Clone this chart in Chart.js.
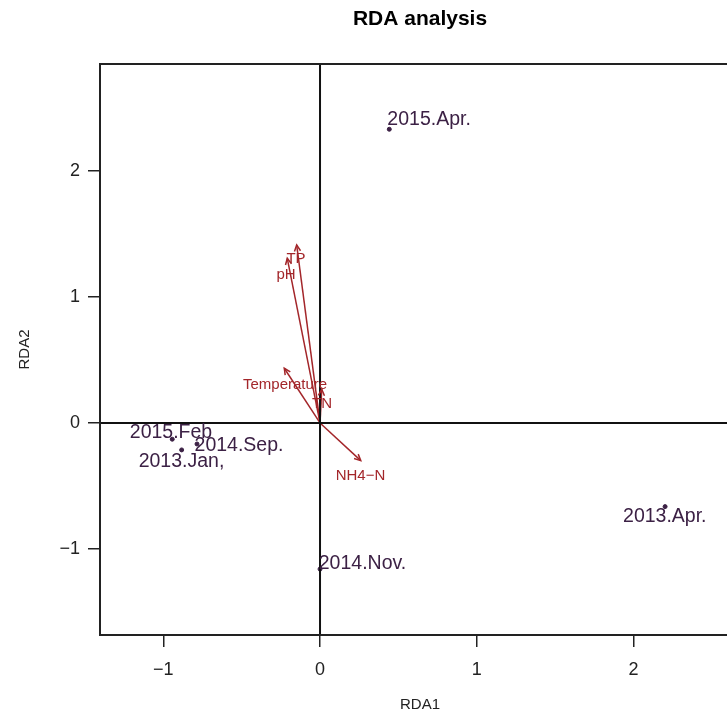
<!DOCTYPE html>
<html>
<head>
<meta charset="utf-8">
<script src="https://cdn.jsdelivr.net/npm/chart.js@4/dist/chart.umd.min.js"></script>
<style>
    html, body { margin: 0; padding: 0; overflow: hidden; background: #fff; }
    #wrap { width: 840px; height: 724px; }
</style>
</head>
<body>
<div id="wrap"><canvas id="RdaChart" width="840" height="724"></canvas></div>
<script>
// sample sites (RDA1, RDA2) and where their names were written
var siteNames = ['2015.Apr.', '2015.Feb', '2014.Sep.', '2013.Jan,', '2013.Apr.', '2014.Nov.'];
var siteX = [0.442, -0.943, -0.785, -0.883, 2.202, 0.000];
var siteY = [2.331, -0.129, -0.167, -0.214, -0.664, -1.160];
var siteLabelX = [0.696, -0.951, -0.517, -0.884, 2.200, 0.271];
var siteLabelY = [2.405, -0.076, -0.176, -0.303, -0.745, -1.115];

// environmental vectors
var envNames = ['TP', 'pH', 'Temperature', 'TN', 'NH4\u2212N'];
var envX = [-0.149, -0.209, -0.228, 0.011, 0.260];
var envY = [1.413, 1.307, 0.434, 0.267, -0.299];
var envLabelX = [-0.153, -0.217, -0.223, 0.013, 0.258];
var envLabelY = [1.299, 1.175, 0.302, 0.151, -0.421];

var xTicks = [-1, 0, 1, 2];
var yTicks = [-1, 0, 1, 2];

var siteColor = '#3c2145';
var envColor = '#a3262a';

var datasets = [];
datasets.push({
    type: 'scatter',
    label: 'sites',
    data: siteX.map(function (v, i) { return { x: v, y: siteY[i] }; }),
    backgroundColor: siteColor,
    borderColor: siteColor,
    pointRadius: 2,
    pointHoverRadius: 2
});
for (let i = 0; i < envNames.length; i++) {
    datasets.push({
        type: 'line',
        label: envNames[i],
        data: [{ x: 0, y: 0 }, { x: envX[i], y: envY[i] }],
        borderColor: envColor,
        borderWidth: 1.5,
        pointRadius: 0,
        fill: false
    });
}

function minusSign(v) {
    return String(v).replace('-', '\u2212');
}

var rdaPlugin = {
    id: 'rdaPlugin',
    afterDatasetsDraw: function (chart) {
        const ctx = chart.ctx;
        const a = chart.chartArea;
        const sx = chart.scales.x;
        const sy = chart.scales.y;
        ctx.save();
        // zero lines
        ctx.strokeStyle = '#111';
        ctx.lineWidth = 2;
        ctx.beginPath();
        ctx.moveTo(sx.getPixelForValue(0), a.top);
        ctx.lineTo(sx.getPixelForValue(0), a.bottom);
        ctx.moveTo(a.left, sy.getPixelForValue(0));
        ctx.lineTo(a.right, sy.getPixelForValue(0));
        ctx.stroke();

        // arrow heads
        ctx.strokeStyle = envColor;
        ctx.lineWidth = 1.5;
        for (let i = 0; i < envNames.length; i++) {
            const pts = chart.getDatasetMeta(i + 1).data;
            const x0 = pts[0].x, y0 = pts[0].y, x1 = pts[1].x, y1 = pts[1].y;
            const ang = Math.atan2(y1 - y0, x1 - x0);
            const len = 7;
            ctx.beginPath();
            ctx.moveTo(x1 - len * Math.cos(ang - 0.45), y1 - len * Math.sin(ang - 0.45));
            ctx.lineTo(x1, y1);
            ctx.lineTo(x1 - len * Math.cos(ang + 0.45), y1 - len * Math.sin(ang + 0.45));
            ctx.stroke();
        }

        // vector names
        ctx.fillStyle = envColor;
        ctx.font = '15px "Liberation Sans", Arial, sans-serif';
        ctx.textAlign = 'center';
        ctx.textBaseline = 'middle';
        for (let i = 0; i < envNames.length; i++) {
            ctx.fillText(envNames[i], sx.getPixelForValue(envLabelX[i]), sy.getPixelForValue(envLabelY[i]));
        }

        // site names
        ctx.fillStyle = siteColor;
        ctx.font = '19.5px "Liberation Sans", Arial, sans-serif';
        for (let i = 0; i < siteNames.length; i++) {
            ctx.fillText(siteNames[i], sx.getPixelForValue(siteLabelX[i]), sy.getPixelForValue(siteLabelY[i]));
        }

        // box
        ctx.strokeStyle = '#222';
        ctx.lineWidth = 2;
        ctx.strokeRect(a.left, a.top, a.right - a.left, a.bottom - a.top);

        // title
        ctx.fillStyle = '#000';
        ctx.font = 'bold 21px "Liberation Sans", Arial, sans-serif';
        ctx.fillText('RDA analysis', (a.left + a.right) / 2, 19);
        ctx.restore();
    }
};

var config = {
    data: { datasets: datasets },
    options: {
        responsive: false,
        animation: false,
        devicePixelRatio: 1,
        layout: { padding: { top: 64, right: 100, left: 0, bottom: 0 } },
        plugins: {
            legend: { display: false },
            tooltip: { enabled: false },
            title: { display: false }
        },
        scales: {
            x: {
                type: 'linear',
                position: 'bottom',
                min: -1.404,
                max: 2.680,
                afterBuildTicks: function (scale) {
                    scale.ticks = xTicks.map(function (v) { return { value: v }; });
                },
                afterFit: function (scale) { scale.height = 89; },
                grid: { drawOnChartArea: false, drawTicks: true, tickLength: 12, color: '#222', lineWidth: 1.5 },
                border: { display: false },
                ticks: {
                    padding: 12,
                    color: '#222',
                    font: { size: 18, family: '"Liberation Sans", Arial, sans-serif' },
                    callback: function (v) { return minusSign(v); }
                },
                title: {
                    display: true,
                    text: 'RDA1',
                    color: '#222',
                    font: { size: 15, family: '"Liberation Sans", Arial, sans-serif' },
                    padding: { top: 0, bottom: 10 }
                }
            },
            y: {
                type: 'linear',
                position: 'left',
                min: -1.683,
                max: 2.849,
                afterBuildTicks: function (scale) {
                    scale.ticks = yTicks.map(function (v) { return { value: v }; });
                },
                afterFit: function (scale) { scale.width = 100; },
                grid: { drawOnChartArea: false, drawTicks: true, tickLength: 12, color: '#222', lineWidth: 1.5 },
                border: { display: false },
                ticks: {
                    padding: 8,
                    color: '#222',
                    font: { size: 18, family: '"Liberation Sans", Arial, sans-serif' },
                    callback: function (v) { return minusSign(v); }
                },
                title: {
                    display: true,
                    text: 'RDA2',
                    color: '#222',
                    font: { size: 15, family: '"Liberation Sans", Arial, sans-serif' },
                    padding: { top: 16, bottom: 0 }
                }
            }
        }
    },
    plugins: [rdaPlugin]
};

var RdaChart = new Chart(document.getElementById('RdaChart'), config);
</script>
</body>
</html>
